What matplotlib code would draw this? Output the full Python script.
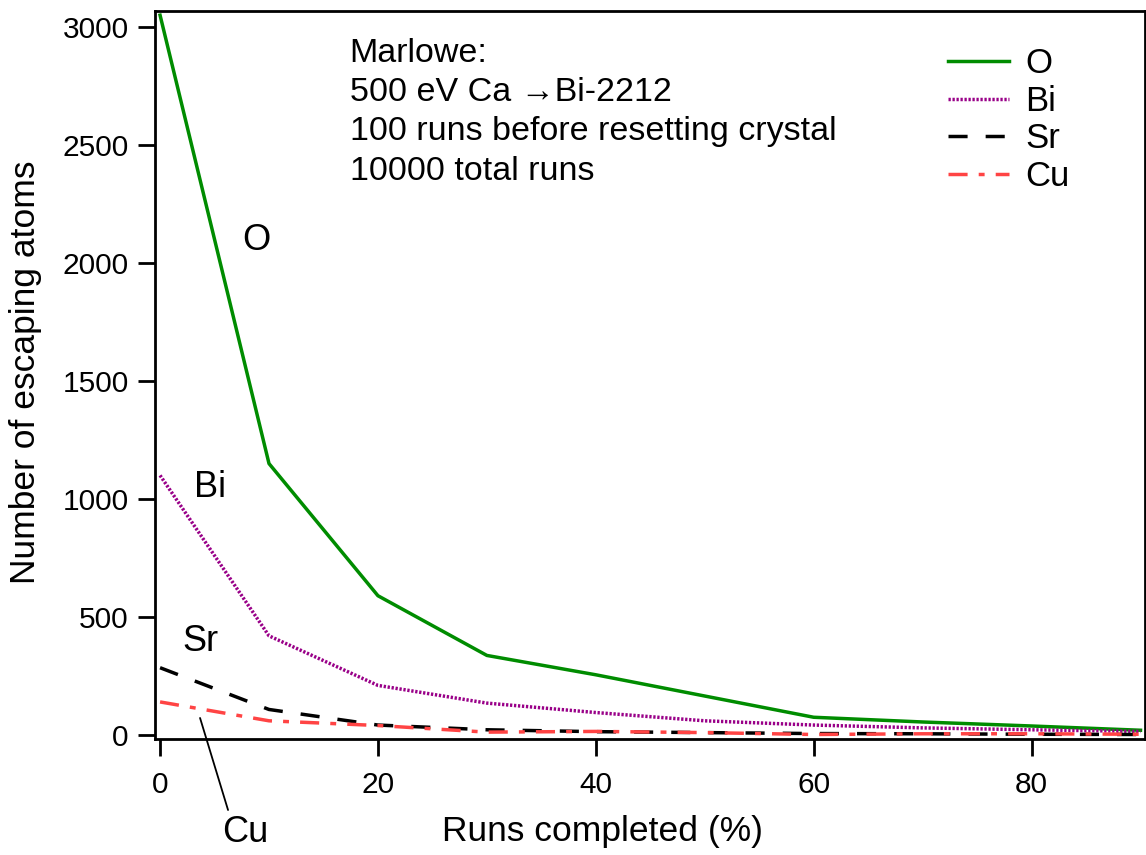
import matplotlib
matplotlib.use('Agg')
import matplotlib.pyplot as plt

plt.rcParams['font.family'] = ['Liberation Sans', 'DejaVu Sans']

# runs completed (%)
runs = [0, 10, 20, 30, 40, 50, 60, 70, 80, 90]

# escaping atoms per species
o_atoms  = [3050, 1150, 590, 337, 255, 165, 75, 55, 38, 20]
bi_atoms = [1100, 420, 210, 135, 95, 60, 42, 30, 22, 15]
sr_atoms = [285, 108, 42, 22, 14, 10, 6, 5, 3, 2]
cu_atoms = [140, 60, 40, 12, 15, 10, 2, 5, 5, 3]

fig = plt.figure(figsize=(11.46, 8.55), dpi=100)
ax = fig.add_axes([0.1353, 0.1357, 0.8637, 0.8515])

lw = 2.5
ax.plot(runs, o_atoms, color='#008C00', lw=lw, label='O')
ax.plot(runs, bi_atoms, color='#990088', lw=lw, ls=(0, (0.66, 0.49)), label='Bi')
ax.plot(runs, sr_atoms, color='black', lw=lw, ls=(0, (5.5, 5.2)), label='Sr')
ax.plot(runs, cu_atoms, color='#FF4444', lw=lw, ls=(0, (5.5, 3.2, 1.7, 3.2)), label='Cu')

ax.set_xlim(-0.46, 90.4)
ax.set_ylim(-17, 3068)
ax.set_xticks([0, 20, 40, 60, 80])
ax.set_yticks(range(0, 3001, 500))
ax.tick_params(direction='out', length=12, width=2, labelsize=21.5)
ax.tick_params(axis='x', pad=11)
ax.tick_params(axis='y', pad=7)
for s in ax.spines.values():
    s.set_linewidth(2)

ax.set_xlabel('Runs completed (%)', fontsize=25.5)
ax.xaxis.set_label_coords(0.452, -0.104)
ax.set_ylabel('Number of escaping atoms', fontsize=25.5)
ax.yaxis.set_label_coords(-0.114, 0.504)

ax.text(17.4, 2955, 'Marlowe:\n500 eV Ca \u2192Bi-2212\n100 runs before resetting crystal\n10000 total runs',
        fontsize=24.5, va='top', ha='left', linespacing=1.35)

ax.text(8.8, 2097, 'O', fontsize=26, ha='center', va='center')
ax.text(4.6, 1047, 'Bi', fontsize=26, ha='center', va='center')
ax.text(3.7, 394, 'Sr', fontsize=26, ha='center', va='center')
ax.text(7.8, -415, 'Cu', fontsize=26, ha='center', va='center', clip_on=False)
# leader line from the Cu label to its curve
ax.annotate('', xy=(3.67, 72), xytext=(6.24, -318), annotation_clip=False,
            arrowprops=dict(arrowstyle='-', color='black', lw=1.3, shrinkA=0, shrinkB=0))

ax.legend(loc='upper left', bbox_to_anchor=(0.801, 0.950), frameon=False, fontsize=25,
          handlelength=1.76, handletextpad=0.46, labelspacing=0.13,
          borderpad=0, borderaxespad=0)

fig.savefig('out.png', dpi=100)
